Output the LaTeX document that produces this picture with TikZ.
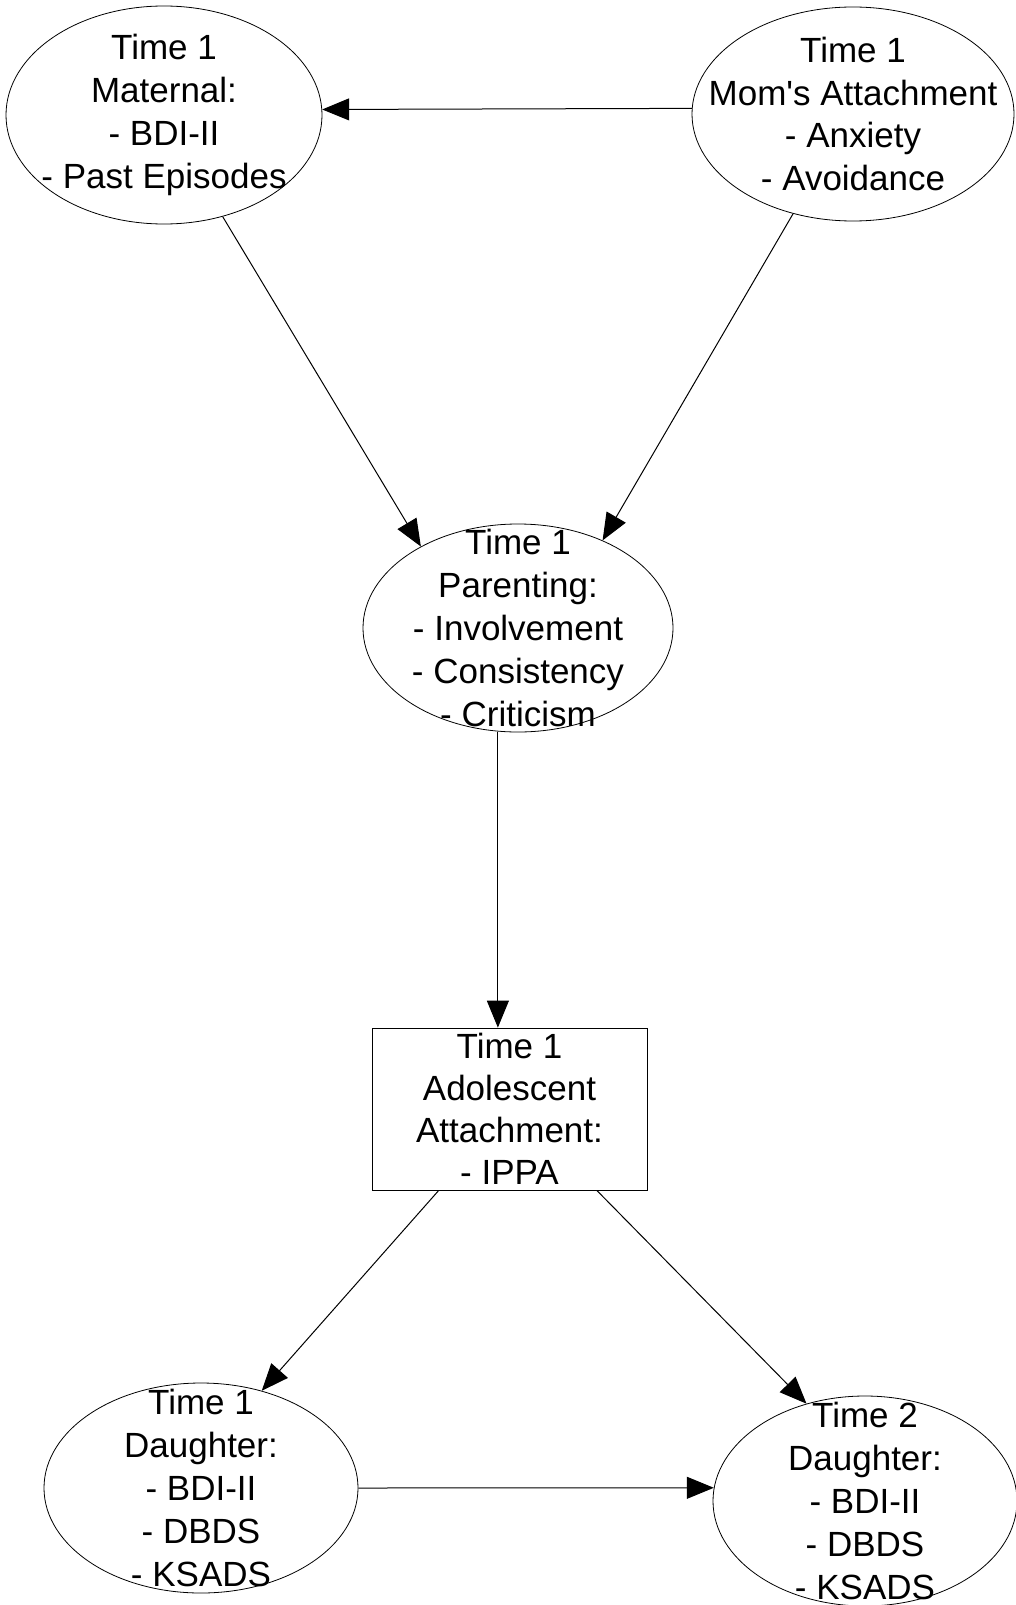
\documentclass[tikz,border=0pt]{standalone}
\usepackage{fontspec}
\setmainfont{Liberation Sans}
\usetikzlibrary{shapes,arrows.meta}

\begin{document}
\begin{tikzpicture}[x=0.5pt, y=-0.5pt]

\tikzstyle{oval}=[ellipse, draw=black, inner sep=-40pt, align=center, font=\fontsize{17.5}{21.4}\selectfont]
\tikzstyle{boks}=[rectangle, draw=black, inner sep=0pt, minimum width=137.5pt, minimum height=81pt, align=center, font=\fontsize{17.5}{21}\selectfont]
\tikzstyle{pil}=[-{Triangle[length=13.5pt, width=11pt]}, line width=0.5pt]

\useasboundingbox (0,0) rectangle (1016,1605);

\node[oval, minimum width=158pt, minimum height=109pt] (maternal) at (164,115) {Time 1\\Maternal:\\- BDI-II\\- Past Episodes};
\node[oval, minimum width=161pt, minimum height=107pt] (attach) at (853,114) {Time 1\\Mom\textquotesingle s Attachment\\- Anxiety\\- Avoidance};
\node[oval, minimum width=155pt, minimum height=104pt] (parenting) at (518,628) {Time 1\\Parenting:\\ - Involvement\\- Consistency\\- Criticism};
\node[boks] (adolescent) at (509.5,1109) {Time 1\\Adolescent\\Attachment:\\- IPPA};
\node[oval, minimum width=157pt, minimum height=105pt] (daughter1) at (201,1488) {Time 1\\Daughter:\\- BDI-II\\- DBDS\\- KSADS};
\node[oval, minimum width=152pt, minimum height=105pt] (daughter2) at (865,1501) {Time 2\\Daughter:\\- BDI-II\\- DBDS\\- KSADS};

\draw[pil] (attach.178) -- (maternal.2);
\draw[pil] (maternal.-60) -- (parenting.140);
\draw[pil] (attach.-121) -- (parenting.46);
\draw[pil] (parenting.259) -- (parenting.259 |- adolescent.north);
\draw[pil] (adolescent.229) -- (daughter1.58);
\draw[pil] (adolescent.317) -- (daughter2.121);
\draw[pil] (daughter1.east) -- (daughter2.175);

\end{tikzpicture}
\end{document}
